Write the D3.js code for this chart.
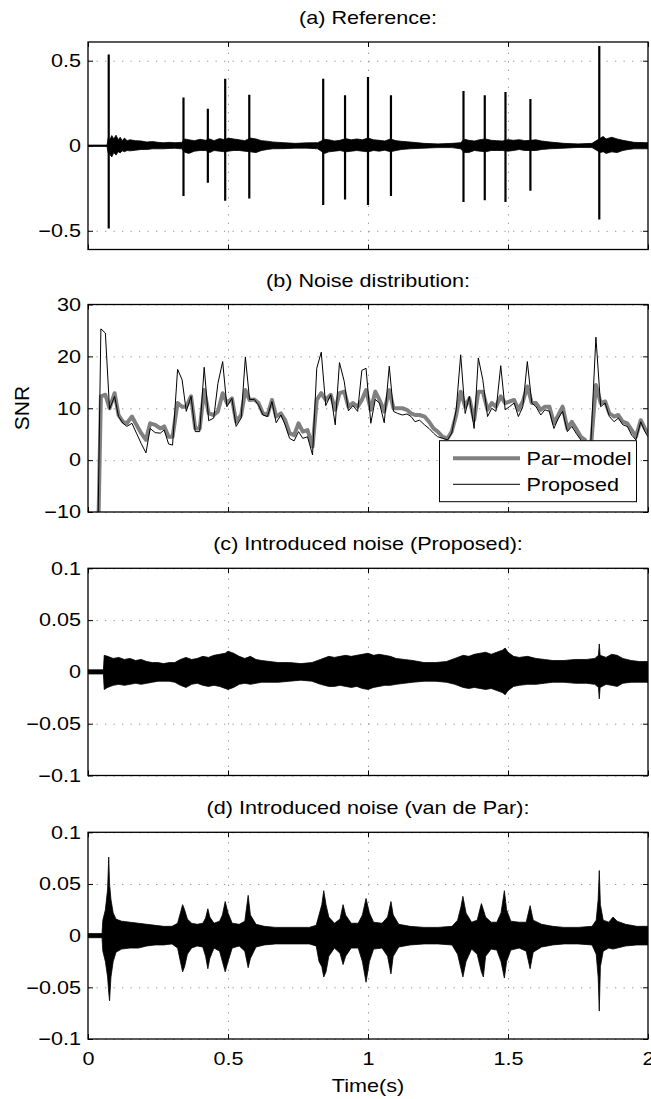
<!DOCTYPE html>
<html><head><meta charset="utf-8">
<script src="https://cdn.jsdelivr.net/npm/d3@7"></script>
<style>
body{margin:0;background:#fff;}
svg text{font-family:"Liberation Sans",Arial,Helvetica,sans-serif;fill:#000;}
</style></head><body>
<svg id="chart" width="651" height="1099"></svg>
<script>
// ---------------- DATA ----------------
const xTicks = [0, 0.5, 1, 1.5, 2];
const yTicksA = [-0.5, 0, 0.5];
const yTicksB = [-10, 0, 10, 20, 30];
const yTicksCD = [-0.1, -0.05, 0, 0.05, 0.1];
const titles = ["(a) Reference:", "(b) Noise distribution:", "(c) Introduced noise (Proposed):", "(d) Introduced noise (van de Par):"];
const legendLabels = ["Par\u2212model", "Proposed"];

// (a) reference waveform: envelope + transient spikes
const refEnvT  = [0,0.068,0.072,0.078,0.085,0.092,0.10,0.108,0.115,0.122,0.13,0.14,0.15,0.17,0.19,0.21,0.23,0.25,0.27,0.29,0.31,0.335,0.345,0.36,0.38,0.40,0.42,0.435,0.45,0.47,0.49,0.50,0.52,0.54,0.56,0.58,0.60,0.62,0.64,0.66,0.70,0.74,0.78,0.82,0.845,0.86,0.88,0.90,0.92,0.94,0.96,0.98,1.00,1.02,1.04,1.06,1.08,1.10,1.12,1.15,1.20,1.25,1.30,1.33,1.345,1.36,1.38,1.40,1.42,1.44,1.46,1.48,1.50,1.52,1.54,1.56,1.58,1.60,1.62,1.65,1.70,1.75,1.80,1.83,1.84,1.85,1.87,1.89,1.91,1.93,1.95,2.00];
const refEnvHi = [0.004,0.004,0.045,0.035,0.06,0.04,0.062,0.035,0.05,0.03,0.045,0.03,0.035,0.03,0.028,0.022,0.025,0.02,0.018,0.02,0.018,0.02,0.04,0.035,0.03,0.038,0.032,0.04,0.03,0.042,0.035,0.045,0.04,0.035,0.03,0.045,0.04,0.03,0.027,0.022,0.018,0.014,0.017,0.018,0.038,0.035,0.028,0.032,0.042,0.035,0.04,0.035,0.045,0.035,0.032,0.028,0.04,0.03,0.026,0.022,0.014,0.011,0.014,0.018,0.038,0.032,0.028,0.036,0.04,0.032,0.03,0.028,0.036,0.032,0.036,0.03,0.032,0.035,0.028,0.022,0.014,0.011,0.014,0.045,0.055,0.04,0.05,0.04,0.032,0.026,0.02,0.018];
const refEnvLo = [-0.004,-0.004,-0.045,-0.05,-0.066,-0.04,-0.055,-0.035,-0.042,-0.03,-0.035,-0.028,-0.03,-0.026,-0.022,-0.022,-0.018,-0.018,-0.018,-0.016,-0.015,-0.018,-0.038,-0.045,-0.032,-0.028,-0.028,-0.04,-0.028,-0.032,-0.036,-0.032,-0.028,-0.028,-0.032,-0.036,-0.04,-0.028,-0.022,-0.018,-0.017,-0.014,-0.014,-0.018,-0.045,-0.036,-0.032,-0.028,-0.036,-0.032,-0.028,-0.032,-0.036,-0.028,-0.032,-0.026,-0.036,-0.028,-0.022,-0.018,-0.014,-0.011,-0.011,-0.018,-0.04,-0.04,-0.028,-0.032,-0.036,-0.028,-0.028,-0.028,-0.032,-0.028,-0.022,-0.028,-0.028,-0.028,-0.022,-0.018,-0.014,-0.01,-0.011,-0.04,-0.035,-0.045,-0.036,-0.04,-0.028,-0.022,-0.018,-0.018];
const refSpikeT  = [0.074,0.341,0.428,0.490,0.576,0.840,0.918,1.000,1.082,1.341,1.417,1.491,1.580,1.826];
const refSpikeHi = [0.537,0.283,0.218,0.394,0.300,0.394,0.297,0.404,0.297,0.322,0.297,0.316,0.275,0.586];
const refSpikeLo = [-0.486,-0.296,-0.218,-0.324,-0.310,-0.349,-0.316,-0.349,-0.296,-0.330,-0.320,-0.330,-0.265,-0.433];

// (b) SNR per frame
const snrT = [0.031,0.046,0.062,0.077,0.095,0.109,0.125,0.139,0.157,0.173,0.190,0.207,0.222,0.240,0.258,0.272,0.288,0.302,0.320,0.336,0.351,0.368,0.383,0.399,0.415,0.431,0.449,0.464,0.481,0.496,0.514,0.529,0.547,0.562,0.577,0.594,0.609,0.625,0.641,0.657,0.672,0.689,0.704,0.720,0.736,0.752,0.767,0.784,0.802,0.817,0.833,0.849,0.867,0.883,0.898,0.915,0.930,0.946,0.963,0.978,0.993,1.010,1.026,1.041,1.058,1.076,1.091,1.106,1.123,1.139,1.154,1.168,1.184,1.202,1.218,1.234,1.249,1.267,1.284,1.299,1.315,1.331,1.347,1.362,1.379,1.394,1.410,1.427,1.442,1.457,1.474,1.490,1.505,1.522,1.537,1.553,1.569,1.585,1.600,1.617,1.632,1.648,1.664,1.680,1.695,1.712,1.728,1.743,1.760,1.775,1.791,1.814,1.831,1.847,1.862,1.879,1.894,1.910,1.926,1.942,1.957,1.974,1.989,2.000];
const snrProposed = [-30,25.3,24.5,9.8,12.3,8.4,7.1,6.5,7.1,5.2,3.2,1.4,6.1,5.3,5.2,5.8,3.1,2.9,17.5,15.5,9.4,12.3,5.5,5.5,17.9,7.6,8.1,14.8,19.0,10.3,11.9,6.5,8.1,19.9,11.7,11.7,10.6,8.7,8.4,11.3,7.2,8.7,6.8,4.2,3.7,5.5,4.2,4.5,1.0,17.7,20.8,10.5,12.6,6.8,18.8,15.2,9.5,10.5,9.4,17.3,17.7,7.1,11.7,11.0,7.2,18.1,9.4,9.0,8.7,8.9,8.4,7.4,7.7,6.8,6.1,5.2,4.5,4.2,3.9,5.2,9.7,20.3,9.0,12.3,6.1,19.7,15.5,8.4,10.0,9.4,18.2,9.7,10.3,11.0,8.4,10.3,19.0,11.0,10.3,8.7,9.7,9.4,6.1,8.1,9.4,5.5,6.5,5.2,3.9,2.9,-2,23.7,10.3,11.0,8.4,7.4,8.1,6.8,6.5,4.8,3.9,7.4,5.5,4.5];
const snrParModel = [-30,12.3,12.6,10.0,12.9,8.7,7.4,7.1,8.4,6.8,5.2,3.9,7.1,6.8,6.1,6.5,4.5,4.5,11.0,10.3,10.3,12.3,6.1,6.1,13.5,9.0,8.7,9.4,12.9,11.0,11.9,7.4,8.7,13.5,11.6,11.7,11.0,9.0,8.7,11.6,8.4,9.0,7.7,5.2,4.8,7.1,5.5,5.8,2.6,11.6,12.9,11.6,12.6,9.7,12.9,13.2,10.3,11.0,10.3,11.6,13.5,9.7,13.2,11.6,9.4,13.5,10.0,10.0,10.0,9.7,9.0,8.7,8.7,8.4,7.4,6.1,5.5,4.5,4.2,5.5,8.7,13.2,10.3,11.9,7.7,13.2,13.2,9.7,11.0,10.3,12.3,11.0,11.3,11.6,9.7,11.3,14.2,11.0,11.0,9.7,10.3,10.3,7.1,8.7,10.3,6.1,7.4,6.1,4.5,3.9,-1,14.5,11.0,11.3,9.0,8.4,8.7,7.4,7.1,5.8,4.5,7.7,6.1,5.2];

// (c) introduced noise (Proposed) envelope
const propEnvT  = [0,0.055,0.058,0.07,0.09,0.11,0.13,0.15,0.17,0.19,0.21,0.23,0.25,0.27,0.29,0.31,0.33,0.35,0.37,0.39,0.41,0.43,0.45,0.47,0.49,0.50,0.52,0.54,0.56,0.58,0.60,0.62,0.65,0.68,0.72,0.76,0.80,0.83,0.86,0.88,0.90,0.92,0.94,0.96,0.98,1.00,1.02,1.04,1.06,1.08,1.10,1.13,1.16,1.20,1.24,1.28,1.31,1.34,1.36,1.38,1.40,1.42,1.44,1.46,1.48,1.49,1.50,1.52,1.54,1.57,1.60,1.63,1.66,1.70,1.74,1.78,1.81,1.823,1.826,1.829,1.85,1.87,1.89,1.91,1.94,1.97,2.00];
const propEnvHi = [0.002,0.002,0.016,0.015,0.013,0.014,0.012,0.013,0.011,0.012,0.010,0.009,0.009,0.008,0.009,0.009,0.012,0.014,0.012,0.013,0.015,0.014,0.016,0.017,0.018,0.020,0.018,0.015,0.013,0.015,0.012,0.011,0.010,0.009,0.009,0.008,0.009,0.012,0.015,0.014,0.015,0.016,0.015,0.016,0.017,0.018,0.016,0.017,0.016,0.015,0.013,0.012,0.011,0.009,0.009,0.010,0.013,0.016,0.015,0.017,0.018,0.019,0.017,0.019,0.021,0.023,0.019,0.015,0.014,0.015,0.013,0.012,0.011,0.011,0.012,0.012,0.013,0.016,0.027,0.016,0.014,0.017,0.016,0.013,0.011,0.010,0.010];
const propEnvLo = [-0.002,-0.002,-0.017,-0.015,-0.013,-0.012,-0.013,-0.012,-0.011,-0.012,-0.011,-0.010,-0.009,-0.009,-0.009,-0.010,-0.013,-0.015,-0.012,-0.011,-0.013,-0.014,-0.013,-0.014,-0.016,-0.017,-0.015,-0.012,-0.011,-0.012,-0.011,-0.010,-0.010,-0.010,-0.009,-0.008,-0.009,-0.012,-0.014,-0.014,-0.013,-0.014,-0.015,-0.014,-0.016,-0.017,-0.015,-0.014,-0.013,-0.013,-0.012,-0.011,-0.010,-0.009,-0.009,-0.010,-0.012,-0.015,-0.016,-0.015,-0.016,-0.017,-0.016,-0.018,-0.020,-0.022,-0.018,-0.014,-0.013,-0.012,-0.012,-0.011,-0.010,-0.010,-0.011,-0.011,-0.012,-0.015,-0.026,-0.015,-0.012,-0.013,-0.014,-0.011,-0.010,-0.010,-0.010];

// (d) introduced noise (van de Par) envelope
const vdpEnvT  = [0,0.05,0.053,0.062,0.07,0.074,0.077,0.082,0.09,0.10,0.12,0.15,0.18,0.21,0.24,0.27,0.30,0.32,0.33,0.338,0.345,0.355,0.37,0.39,0.41,0.42,0.428,0.435,0.45,0.47,0.48,0.49,0.50,0.515,0.54,0.56,0.572,0.58,0.60,0.63,0.67,0.71,0.75,0.79,0.815,0.825,0.835,0.842,0.85,0.86,0.88,0.90,0.911,0.92,0.94,0.965,0.98,0.993,1.005,1.02,1.05,1.07,1.082,1.09,1.11,1.15,1.20,1.25,1.30,1.32,1.332,1.339,1.35,1.37,1.39,1.405,1.412,1.42,1.44,1.46,1.475,1.487,1.495,1.51,1.54,1.565,1.579,1.59,1.62,1.66,1.70,1.75,1.80,1.815,1.822,1.826,1.83,1.84,1.86,1.875,1.89,1.92,1.96,2.00];
const vdpEnvHi = [0.002,0.002,0.015,0.025,0.045,0.076,0.05,0.035,0.022,0.016,0.014,0.013,0.012,0.011,0.010,0.009,0.009,0.012,0.022,0.030,0.025,0.016,0.012,0.011,0.012,0.017,0.026,0.018,0.012,0.014,0.020,0.033,0.022,0.012,0.011,0.014,0.039,0.020,0.011,0.009,0.008,0.008,0.008,0.008,0.010,0.020,0.030,0.0435,0.030,0.018,0.012,0.016,0.030,0.020,0.012,0.012,0.020,0.036,0.022,0.013,0.012,0.018,0.033,0.020,0.011,0.009,0.008,0.008,0.009,0.015,0.028,0.038,0.022,0.013,0.015,0.031,0.025,0.018,0.013,0.013,0.022,0.0435,0.025,0.014,0.013,0.013,0.029,0.015,0.011,0.009,0.008,0.008,0.009,0.015,0.035,0.063,0.030,0.015,0.013,0.018,0.014,0.011,0.009,0.009];
const vdpEnvLo = [-0.002,-0.002,-0.015,-0.025,-0.040,-0.055,-0.063,-0.040,-0.025,-0.016,-0.013,-0.012,-0.012,-0.010,-0.009,-0.009,-0.008,-0.012,-0.025,-0.035,-0.030,-0.018,-0.012,-0.010,-0.011,-0.020,-0.032,-0.022,-0.012,-0.015,-0.025,-0.035,-0.025,-0.012,-0.010,-0.015,-0.031,-0.022,-0.011,-0.009,-0.008,-0.008,-0.008,-0.008,-0.010,-0.025,-0.030,-0.040,-0.035,-0.020,-0.012,-0.017,-0.028,-0.020,-0.012,-0.012,-0.025,-0.045,-0.025,-0.013,-0.012,-0.020,-0.037,-0.020,-0.011,-0.009,-0.008,-0.008,-0.009,-0.018,-0.032,-0.040,-0.025,-0.013,-0.018,-0.035,-0.040,-0.020,-0.013,-0.014,-0.025,-0.041,-0.025,-0.014,-0.012,-0.015,-0.032,-0.016,-0.011,-0.009,-0.008,-0.008,-0.009,-0.018,-0.040,-0.073,-0.030,-0.015,-0.012,-0.013,-0.012,-0.010,-0.009,-0.009];

// ---------------- LAYOUT ----------------
const SX = 1.2, FS = 18;
const X0 = 88, X1 = 648;
const panels = [
  {top: 42,    bottom: 249.5, domain: [-0.61, 0.61], ticks: yTicksA},
  {top: 304.5, bottom: 512,   domain: [-10, 30],     ticks: yTicksB},
  {top: 568.3, bottom: 775.5, domain: [-0.1, 0.1],   ticks: yTicksCD},
  {top: 832.3, bottom: 1039,  domain: [-0.1, 0.1],   ticks: yTicksCD}
];
const svg = d3.select("#chart");
const x = d3.scaleLinear().domain([0, 2]).range([X0, X1]);
const fmt = d => (d < 0 ? "\u2212" : "") + String(Math.abs(d));

function stretchText(sel) {
  sel.each(function() {
    const t = d3.select(this);
    const tx = +t.attr("x") || 0;
    const ty = +t.attr("y") || 0;
    t.attr("x", null).attr("y", null)
     .attr("transform", `translate(${tx},${ty}) scale(${SX},1)`)
     .style("font-size", FS + "px");
  });
}
function label(g, px, py, str, anchor) {
  g.append("text").attr("transform", `translate(${px},${py}) scale(${SX},1)`)
    .attr("text-anchor", anchor).style("font-size", FS + "px").text(str);
}

panels.forEach((p, i) => {
  const y = d3.scaleLinear().domain(p.domain).range([p.bottom, p.top]);
  p.y = y;
  const g = svg.append("g");
  const w = X1 - X0, h = p.bottom - p.top;
  const clipId = "clip" + i;
  svg.append("clipPath").attr("id", clipId).append("rect")
    .attr("x", X0).attr("y", p.top).attr("width", w).attr("height", h);

  // grid
  const gy = g.append("g").attr("transform", `translate(${X0},0)`)
    .call(d3.axisLeft(y).tickValues(p.ticks).tickSize(-w).tickFormat(""));
  gy.select(".domain").remove();
  gy.selectAll("line").attr("stroke", "#8a8a8a").attr("stroke-width", 0.9).attr("stroke-dasharray", "1.3,7.2");
  const gx = g.append("g").attr("transform", `translate(0,${p.bottom})`)
    .call(d3.axisBottom(x).tickValues(xTicks.slice(1, -1)).tickSize(-h).tickFormat(""));
  gx.select(".domain").remove();
  gx.selectAll("line").attr("stroke", "#8a8a8a").attr("stroke-width", 0.9).attr("stroke-dasharray", "1.3,7.2");

  p.g = g; p.clip = `url(#${clipId})`;
});

// (a) reference
(function() {
  const p = panels[0], y = p.y;
  const dg = p.g.append("g").attr("clip-path", p.clip);
  const area = d3.area().x(i => x(refEnvT[i])).y0(i => y(refEnvLo[i])).y1(i => y(refEnvHi[i]));
  dg.append("path").attr("d", area(d3.range(refEnvT.length)))
    .attr("fill", "#000").attr("stroke", "#000").attr("stroke-width", 0.8);
  dg.selectAll("line.spike").data(d3.range(refSpikeT.length)).join("line")
    .attr("x1", i => x(refSpikeT[i])).attr("x2", i => x(refSpikeT[i]))
    .attr("y1", i => y(refSpikeHi[i])).attr("y2", i => y(refSpikeLo[i]))
    .attr("stroke", "#000").attr("stroke-width", 2.2);
})();

// (b) SNR
(function() {
  const p = panels[1], y = p.y;
  const dg = p.g.append("g").attr("clip-path", p.clip);
  const line = arr => d3.line().x(i => x(snrT[i])).y(i => y(arr[i]))(d3.range(snrT.length));
  dg.append("path").attr("d", line(snrParModel)).attr("fill", "none")
    .attr("stroke", "#808080").attr("stroke-width", 4).attr("stroke-linejoin", "round");
  dg.append("path").attr("d", line(snrProposed)).attr("fill", "none")
    .attr("stroke", "#000").attr("stroke-width", 1).attr("stroke-linejoin", "miter");
  // legend
  const lg = p.g.append("g");
  lg.append("rect").attr("x", 439.5).attr("y", 440.7).attr("width", 197).attr("height", 61)
    .attr("fill", "#fff").attr("stroke", "#000").attr("stroke-width", 1);
  lg.append("line").attr("x1", 453).attr("x2", 520).attr("y1", 458.3).attr("y2", 458.3)
    .attr("stroke", "#808080").attr("stroke-width", 4);
  lg.append("line").attr("x1", 453).attr("x2", 520).attr("y1", 484.3).attr("y2", 484.3)
    .attr("stroke", "#000").attr("stroke-width", 1);
  label(lg, 526.5, 464.8, legendLabels[0], "start");
  label(lg, 526.5, 490.8, legendLabels[1], "start");
})();

// (c) and (d) noise envelopes
[[2, propEnvT, propEnvHi, propEnvLo], [3, vdpEnvT, vdpEnvHi, vdpEnvLo]].forEach(([k, T, Hi, Lo]) => {
  const p = panels[k], y = p.y;
  const dg = p.g.append("g").attr("clip-path", p.clip);
  const area = d3.area().x(i => x(T[i])).y0(i => y(Lo[i])).y1(i => y(Hi[i]));
  dg.append("path").attr("d", area(d3.range(T.length)))
    .attr("fill", "#000").attr("stroke", "#000").attr("stroke-width", 0.8);
});

// axes, box, titles
panels.forEach((p, i) => {
  const y = p.y, g = p.g;
  const w = X1 - X0;
  const al = g.append("g").attr("transform", `translate(${X0},0)`)
    .call(d3.axisLeft(y).tickValues(p.ticks).tickSize(-5).tickPadding(7).tickFormat(fmt));
  const ar = g.append("g").attr("transform", `translate(${X1},0)`)
    .call(d3.axisRight(y).tickValues(p.ticks).tickSize(-5).tickFormat(""));
  const at = g.append("g").attr("transform", `translate(0,${p.top})`)
    .call(d3.axisTop(x).tickValues(xTicks).tickSize(-5).tickFormat(""));
  const ab = g.append("g").attr("transform", `translate(0,${p.bottom})`)
    .call(d3.axisBottom(x).tickValues(xTicks).tickSize(-5).tickPadding(13)
      .tickFormat(i === 3 ? d => String(d) : ""));
  [al, ar, at, ab].forEach(a => {
    a.select(".domain").remove();
    a.selectAll("line").attr("stroke", "#000").attr("stroke-width", 1);
  });
  stretchText(al.selectAll("text"));
  stretchText(ab.selectAll("text"));
  g.append("rect").attr("x", X0).attr("y", p.top).attr("width", w).attr("height", p.bottom - p.top)
    .attr("fill", "none").attr("stroke", "#000").attr("stroke-width", 1.3);
  label(g, (X0 + X1) / 2, p.top - 18, titles[i], "middle");
});

// axis labels
svg.append("text").attr("transform", `translate(29,408) rotate(-90)`)
  .attr("text-anchor", "middle").style("font-size", "21px").text("SNR");
label(svg, (X0 + X1) / 2, 1092, "Time(s)", "middle");
</script>
</body></html>
